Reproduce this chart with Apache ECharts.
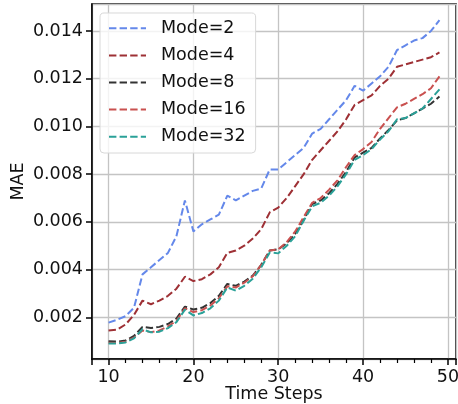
<!DOCTYPE html>
<html>
<head>
<meta charset="utf-8">
<script src="https://cdn.jsdelivr.net/npm/echarts@6/dist/echarts.min.js"></script>
<style>
html,body{margin:0;padding:0;background:#fff;}
#chart{width:458px;height:404px;}
</style>
</head>
<body>
<div id="chart"></div>
<script>
const steps = [10,11,12,13,14,15,16,17,18,19,20,21,22,23,24,25,26,27,28,29,30,31,32,33,34,35,36,37,38,39,40,41,42,43,44,45,46,47,48,49];
const mode2 = [0.00178,0.0019,0.00205,0.0024,0.0038,0.0041,0.0044,0.0047,0.0054,0.0069,0.0056,0.0059,0.0061,0.0063,0.0071,0.0069,0.0071,0.0073,0.0074,0.0082,0.0082,0.0085,0.0088,0.0091,0.0097,0.0099,0.0103,0.0107,0.0111,0.0117,0.0115,0.0118,0.0121,0.0125,0.0132,0.0134,0.0136,0.0137,0.0140,0.01445];
const mode4 = [0.00145,0.00148,0.0017,0.0021,0.0027,0.00255,0.0027,0.0029,0.0032,0.0037,0.00352,0.0036,0.0038,0.0041,0.0047,0.0048,0.0050,0.0053,0.0057,0.0064,0.0066,0.0070,0.0075,0.0080,0.0086,0.0090,0.0094,0.0098,0.0103,0.0109,0.0111,0.0113,0.0117,0.0120,0.0125,0.0126,0.0127,0.0128,0.0129,0.0131];
const mode8 = [0.00100,0.00098,0.00103,0.00122,0.00160,0.00155,0.00160,0.00172,0.00195,0.00245,0.00233,0.00240,0.00260,0.00290,0.00340,0.00332,0.00350,0.00375,0.00420,0.00480,0.00485,0.00510,0.00550,0.00610,0.00675,0.00690,0.00720,0.00760,0.00810,0.00870,0.00890,0.00910,0.00950,0.00985,0.01025,0.01035,0.01055,0.01075,0.01095,0.01125];
const mode16 = [0.00093,0.00092,0.00098,0.00115,0.00145,0.00138,0.00145,0.00162,0.00185,0.00238,0.00222,0.00230,0.00250,0.00280,0.00330,0.00325,0.00345,0.00372,0.00420,0.00480,0.00485,0.00515,0.00560,0.00620,0.00680,0.00700,0.00735,0.00775,0.00830,0.00880,0.00905,0.00935,0.00990,0.01035,0.01080,0.01095,0.01115,0.01135,0.01160,0.01210];
const mode32 = [0.00090,0.00090,0.00095,0.00112,0.00150,0.00137,0.00140,0.00155,0.00180,0.00232,0.00208,0.00218,0.00238,0.00270,0.00325,0.00312,0.00332,0.00362,0.00410,0.00472,0.00468,0.00500,0.00540,0.00605,0.00665,0.00680,0.00710,0.00750,0.00800,0.00860,0.00880,0.00905,0.00945,0.00980,0.01030,0.01035,0.01055,0.01075,0.01115,0.01155];
const seriesNames = ['Mode=2','Mode=4','Mode=8','Mode=16','Mode=32'];
const seriesColors = ['#6488ea','#9e3035','#333333','#c9504f','#2aa198'];
const allValues = [mode2, mode4, mode8, mode16, mode32];

const FONT = 'DejaVu Sans';
const FS = 17.5;

const chart = echarts.init(document.getElementById('chart'), null, {renderer:'canvas'});
const series = allValues.map((vals, i) => ({
  name: seriesNames[i],
  type: 'line',
  data: steps.map((s, j) => [s, vals[j]]),
  showSymbol: false,
  symbol: 'none',
  color: seriesColors[i],
  lineStyle: {color: seriesColors[i], width: 2, type: [7.4, 3.2], cap: 'butt'},
  animation: false,
  z: 3
}));

chart.setOption({
  animation: false,
  backgroundColor: '#fff',
  grid: {left: 92, top: 4, right: 2, bottom: 45, show: true, borderColor: '#000', borderWidth: 1.5,
    backgroundColor: 'transparent', containLabel: false, outerBoundsMode: 'none'},
  legend: {
    orient: 'vertical',
    left: 100, top: 13,
    data: seriesNames,
    itemWidth: 37, itemHeight: 14, itemGap: 7.1,
    padding: [5.3, 10, 6.3, 8],
    backgroundColor: 'rgba(255,255,255,0.8)',
    borderColor: '#d8d8d8', borderWidth: 1, borderRadius: 4,
    itemStyle: {opacity: 0},
    textStyle: {fontFamily: FONT, fontSize: FS, color: '#111', lineHeight: 20, padding: [0,0,0,10]},
    z: 10
  },
  xAxis: {
    type: 'value', min: 8.05, max: 50.95, splitNumber: 5,
    name: 'Time Steps', nameLocation: 'middle', nameGap: 26, nameMoveOverlap: false,
    nameTextStyle: {fontFamily: FONT, fontSize: FS, color: '#111'},
    axisLine: {show: true, lineStyle: {color: '#000', width: 1.5}},
    axisTick: {show: true, inside: false, length: 6, lineStyle: {color: '#000', width: 1.5}},
    minorTick: {show: true, splitNumber: 5, length: 4, lineStyle: {color: '#000', width: 1.2}},
    axisLabel: {fontFamily: FONT, fontSize: FS, color: '#111', margin: 9, showMinLabel: false, showMaxLabel: false,
      formatter: v => (Math.abs(v - Math.round(v)) < 1e-6 ? String(Math.round(v)) : '')},
    splitLine: {show: true, lineStyle: {color: '#c4c4c4', width: 1.3}}
  },
  yAxis: {
    type: 'value', min: 0.000254, max: 0.01513, splitNumber: 7,
    name: 'MAE', nameLocation: 'middle', nameGap: 65, nameRotate: 90, nameMoveOverlap: false,
    nameTextStyle: {fontFamily: FONT, fontSize: FS, color: '#111'},
    axisLine: {show: true, lineStyle: {color: '#000', width: 1.5}},
    axisTick: {show: true, inside: false, length: 6, lineStyle: {color: '#000', width: 1.5}},
    axisLabel: {fontFamily: FONT, fontSize: FS, color: '#111', margin: 9, showMinLabel: false, showMaxLabel: false,
      formatter: v => v.toFixed(3)},
    splitLine: {show: true, lineStyle: {color: '#c4c4c4', width: 1.3}}
  },
  series: series
});
</script>
</body>
</html>
